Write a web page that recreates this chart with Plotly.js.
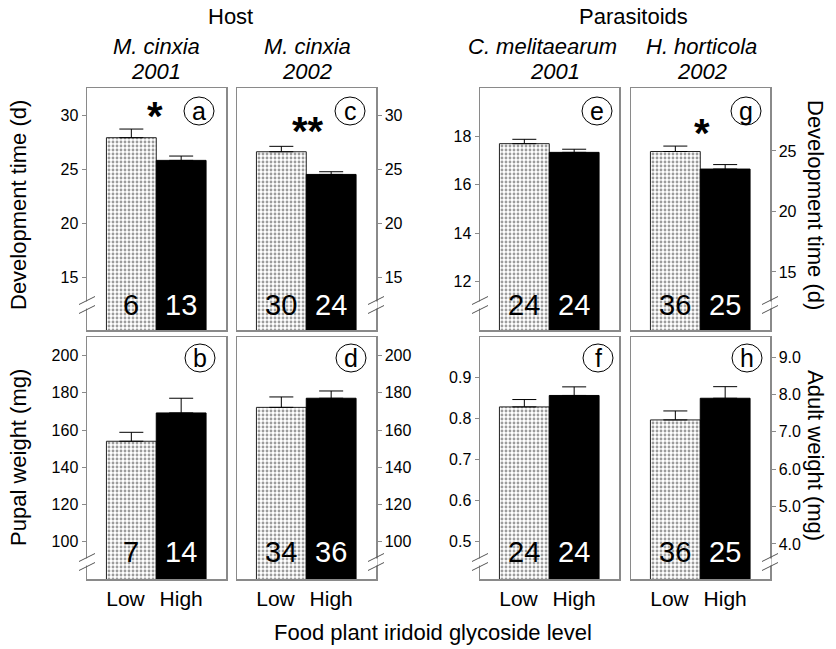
<!DOCTYPE html>
<html>
<head>
<meta charset="utf-8">
<script src="https://cdn.plot.ly/plotly-3.0.1.min.js"></script>
<style>html,body{margin:0;padding:0;background:#fff;}#chart{width:836px;height:649px;}</style>
</head>
<body>
<div id="chart"></div>
<script>
// ---------- data ----------
const categories = ['Low', 'High'];
const tickLabels = ['Low\u00a0\u00a0', 'High'];

// Development time (d)
const devHost2001 = [27.9, 25.8];
const devHost2001Err = [0.8, 0.4];
const devHost2002 = [26.6, 24.5];
const devHost2002Err = [0.5, 0.25];
const devCmel2001 = [17.7, 17.34];
const devCmel2001Err = [0.18, 0.13];
const devHhort2002 = [24.95, 23.5];
const devHhort2002Err = [0.45, 0.37];

// Pupal / adult weight (mg)
const pupHost2001 = [154, 169.2];
const pupHost2001Err = [4.8, 7.9];
const pupHost2002 = [172.2, 177.1];
const pupHost2002Err = [5.6, 3.9];
const adultCmel2001 = [0.829, 0.857];
const adultCmel2001Err = [0.018, 0.021];
const adultHhort2002 = [7.32, 7.9];
const adultHhort2002Err = [0.24, 0.31];

// sample sizes
const nDevHost2001 = [6, 13];
const nDevHost2002 = [30, 24];
const nDevCmel2001 = [24, 24];
const nDevHhort2002 = [36, 25];
const nWtHost2001 = [7, 14];
const nWtHost2002 = [34, 36];
const nWtCmel2001 = [24, 24];
const nWtHhort2002 = [36, 25];

const panelLetters = ['a', 'c', 'e', 'g', 'b', 'd', 'f', 'h'];
const significance = ['*', '**', '', '*', '', '', '', ''];

// ---------- layout helpers ----------
const W = 836, H = 649;
const px = x => x / W;
const py = y => 1 - y / H;

const colX = [[87, 226], [237, 376], [480, 619], [631, 770]];
const rowY = [[88, 330], [337, 579]];
const sides = ['left', 'right', 'left', 'right'];

const panels = [
  {v: devHost2001, e: devHost2001Err, n: nDevHost2001, col: 0, row: 0, range: [10.1, 32.5], ticks: [15, 20, 25, 30], fmt: ''},
  {v: devHost2002, e: devHost2002Err, n: nDevHost2002, col: 1, row: 0, range: [10.1, 32.5], ticks: [15, 20, 25, 30], fmt: ''},
  {v: devCmel2001, e: devCmel2001Err, n: nDevCmel2001, col: 2, row: 0, range: [10, 20], ticks: [12, 14, 16, 18], fmt: ''},
  {v: devHhort2002, e: devHhort2002Err, n: nDevHhort2002, col: 3, row: 0, range: [10.2, 30.2], ticks: [15, 20, 25], fmt: ''},
  {v: pupHost2001, e: pupHost2001Err, n: nWtHost2001, col: 0, row: 1, range: [80, 210], ticks: [100, 120, 140, 160, 180, 200], fmt: ''},
  {v: pupHost2002, e: pupHost2002Err, n: nWtHost2002, col: 1, row: 1, range: [80, 210], ticks: [100, 120, 140, 160, 180, 200], fmt: ''},
  {v: adultCmel2001, e: adultCmel2001Err, n: nWtCmel2001, col: 2, row: 1, range: [0.408, 1.0], ticks: [0.5, 0.6, 0.7, 0.8, 0.9], fmt: '.1f'},
  {v: adultHhort2002, e: adultHhort2002Err, n: nWtHhort2002, col: 3, row: 1, range: [3.06, 9.54], ticks: [4, 5, 6, 7, 8, 9], fmt: '.1f'}
];

const FONT = '"Liberation Sans", Arial, Helvetica, sans-serif';
const frameColor = '#8a8a8a';

const data = [];
const layout = {
  width: W, height: H,
  margin: {l: 0, r: 0, t: 0, b: 0},
  paper_bgcolor: '#fff', plot_bgcolor: '#fff',
  showlegend: false,
  barmode: 'overlay',
  bargap: 0,
  font: {family: FONT, color: '#000'},
  annotations: [],
  shapes: []
};

panels.forEach((p, i) => {
  const k = i + 1;
  const xa = 'x' + (k === 1 ? '' : k), ya = 'y' + (k === 1 ? '' : k);
  const xaKey = 'xaxis' + (k === 1 ? '' : k), yaKey = 'yaxis' + (k === 1 ? '' : k);
  const cx = colX[p.col], ry = rowY[p.row];
  const side = sides[p.col];

  // low level bar (stippled)
  data.push({
    type: 'bar', x: [categories[0]], y: [p.v[0]], xaxis: xa, yaxis: ya,
    width: 1,
    marker: {
      color: '#ffffff',
      line: {color: '#222', width: 1},
      pattern: {shape: '.', size: 4, solidity: 0.4, fgcolor: '#3a3a3a', bgcolor: '#ffffff', fillmode: 'overlay'}
    },
    error_y: {type: 'data', symmetric: false, array: [p.e[0]], arrayminus: [0], color: '#000', thickness: 1, width: 12},
    hoverinfo: 'skip'
  });
  // high level bar (solid black)
  data.push({
    type: 'bar', x: [categories[1]], y: [p.v[1]], xaxis: xa, yaxis: ya,
    width: 1,
    marker: {color: '#000000', line: {color: '#000', width: 1}},
    error_y: {type: 'data', symmetric: false, array: [p.e[1]], arrayminus: [0], color: '#000', thickness: 1, width: 12},
    hoverinfo: 'skip'
  });

  layout[xaKey] = {
    domain: [px(cx[0]), px(cx[1])],
    anchor: ya,
    type: 'category',
    categoryorder: 'array', categoryarray: categories,
    tickvals: categories, ticktext: tickLabels,
    range: [-0.89, 1.9],
    fixedrange: true,
    showline: true, linecolor: frameColor, linewidth: 1.5, mirror: true,
    showgrid: false, zeroline: false, ticks: '',
    showticklabels: p.row === 1,
    tickfont: {size: 21, family: FONT, color: '#000'}
  };
  layout[yaKey] = {
    domain: [py(ry[1]), py(ry[0])],
    anchor: xa,
    side: side,
    range: p.range,
    fixedrange: true,
    tickvals: p.ticks,
    tickformat: p.fmt,
    ticks: 'outside', ticklen: 4, tickcolor: frameColor, tickwidth: 1,
    showline: true, linecolor: frameColor, linewidth: 1.5, mirror: true,
    showgrid: false, zeroline: false,
    tickfont: {size: 16, family: FONT, color: '#000'}
  };

  // sample sizes inside bars
  categories.forEach((c, j) => {
    layout.annotations.push({
      xref: xa, yref: 'paper', x: c, y: py(p.row === 0 ? 305 : 552),
      text: String(p.n[j]), showarrow: false, yanchor: 'middle',
      font: {size: 29, family: FONT, color: j === 0 ? '#000' : '#fff'}
    });
  });

  // circled panel letter
  const lcx = [199, 350, 597, 746][p.col] + (p.row === 1 ? 1 : 0);
  const lcy = p.row === 0 ? 111 : 358;
  const rC = 15;
  layout.shapes.push({type: 'circle', xref: 'paper', yref: 'paper',
    x0: px(lcx - rC), x1: px(lcx + rC), y0: py(lcy + rC - 1), y1: py(lcy - rC + 1),
    line: {color: '#000', width: 1}});
  layout.annotations.push({xref: 'paper', yref: 'paper', x: px(lcx), y: py(lcy), text: panelLetters[i],
    showarrow: false, xanchor: 'center', yanchor: 'middle', font: {size: 25, family: FONT, color: '#000'}});

  // significance asterisks
  if (significance[i]) {
    const pos = {0: [155, 116], 1: [308, 131], 3: [702, 133]}[i];
    layout.annotations.push({xref: 'paper', yref: 'paper', x: px(pos[0]), y: py(pos[1]), text: '<b>' + significance[i] + '</b>',
      showarrow: false, xanchor: 'center', yanchor: 'middle', font: {size: 40, family: FONT, color: '#000'}});
  }

  // axis break marks
  const ax = side === 'left' ? cx[0] : cx[1];
  const yc = p.row === 0 ? 305 : 562;
  const gap = 4.5;
  layout.shapes.push({type: 'rect', xref: 'paper', yref: 'paper', layer: 'above',
    x0: px(ax - 1.5), x1: px(ax + 1.5), y0: py(yc + gap - 1), y1: py(yc - gap + 1),
    fillcolor: '#fff', line: {width: 0}});
  [-gap, gap].forEach(d => {
    layout.shapes.push({type: 'line', xref: 'paper', yref: 'paper', layer: 'above',
      x0: px(ax - 8), y0: py(yc + d + 4), x1: px(ax + 8), y1: py(yc + d - 4),
      line: {color: '#555', width: 1}});
  });
});

// headings & axis titles
const textNotes = [
  {x: 230, y: 17, t: 'Host', s: 22},
  {x: 633, y: 17, t: 'Parasitoids', s: 22},
  {x: 156, y: 46, t: '<i>M. cinxia</i>', s: 22},
  {x: 156, y: 71, t: '<i>2001</i>', s: 22},
  {x: 307, y: 46, t: '<i>M. cinxia</i>', s: 22},
  {x: 307, y: 71, t: '<i>2002</i>', s: 22},
  {x: 542, y: 46, t: '<i>C. melitaearum</i>', s: 22},
  {x: 555, y: 71, t: '<i>2001</i>', s: 22},
  {x: 701, y: 46, t: '<i>H. horticola</i>', s: 22},
  {x: 702, y: 71, t: '<i>2002</i>', s: 22},
  {x: 18, y: 205, t: 'Development time (d)', s: 22, a: -90},
  {x: 18, y: 458, t: 'Pupal weight (mg)', s: 22, a: -90},
  {x: 816, y: 205, t: 'Development time (d)', s: 22, a: 90},
  {x: 816, y: 455, t: 'Adult weight (mg)', s: 22, a: 90},
  {x: 433, y: 632, t: 'Food plant iridoid glycoside level', s: 22}
];
textNotes.forEach(n => {
  layout.annotations.push({xref: 'paper', yref: 'paper', x: px(n.x), y: py(n.y), text: n.t,
    showarrow: false, xanchor: 'center', yanchor: 'middle', textangle: n.a || 0,
    font: {size: n.s, family: FONT, color: '#000'}});
});

Plotly.newPlot('chart', data, layout, {staticPlot: true, displayModeBar: false});
</script>
</body>
</html>
